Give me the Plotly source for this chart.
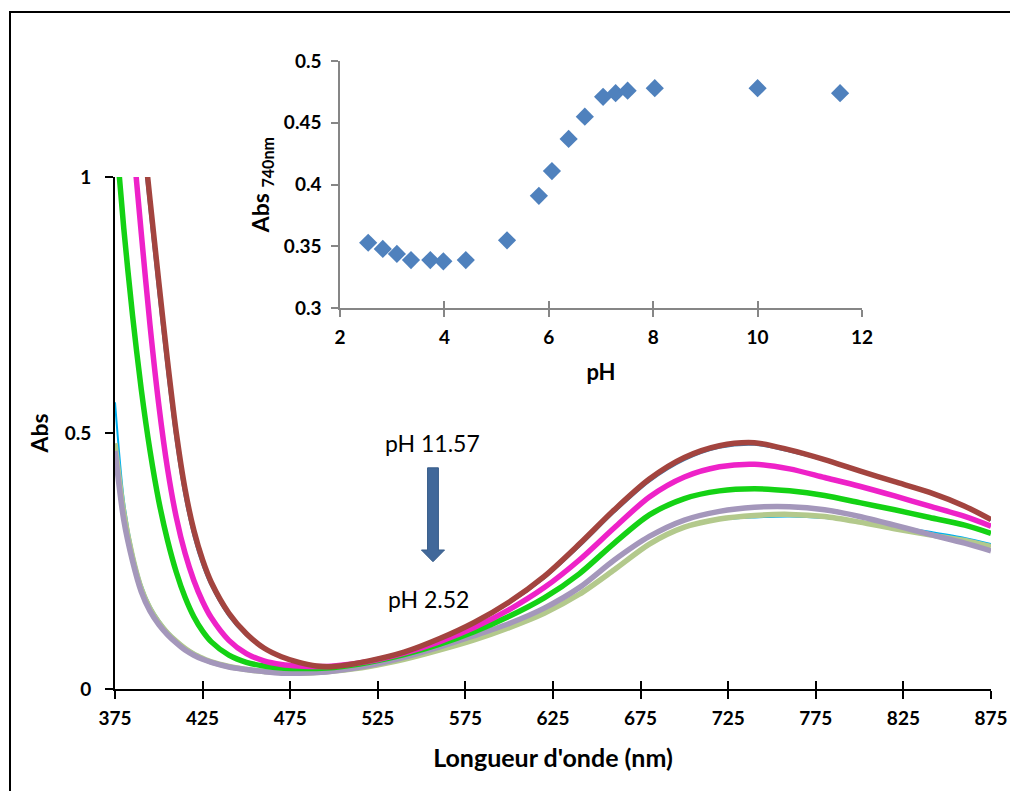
import plotly.graph_objects as go

# ---------------- data ----------------
wavelength = [375, 380, 385, 390, 395, 400, 405, 410, 415, 420, 425, 430, 440, 450, 460, 470,
              480, 490, 500, 520, 540, 560, 580, 600, 620, 640, 660, 680, 700, 720, 740, 760,
              780, 800, 820, 840, 860, 875]

abs_cyan = [0.56, 0.37, 0.27, 0.205, 0.163, 0.135, 0.113, 0.096, 0.082, 0.071, 0.062, 0.055, 0.045, 0.039,
            0.035, 0.033, 0.032, 0.033, 0.036, 0.045, 0.059, 0.077, 0.097, 0.121, 0.149, 0.186, 0.234,
            0.284, 0.315, 0.330, 0.335, 0.337, 0.334, 0.327, 0.318, 0.307, 0.295, 0.283]
abs_olive = [0.48, 0.345, 0.258, 0.196, 0.157, 0.130, 0.109, 0.093, 0.079, 0.068, 0.060, 0.053, 0.044, 0.038,
             0.034, 0.032, 0.031, 0.032, 0.035, 0.044, 0.058, 0.076, 0.096, 0.120, 0.148, 0.185, 0.233,
             0.283, 0.316, 0.332, 0.339, 0.341, 0.337, 0.326, 0.313, 0.301, 0.290, 0.278]
abs_lavender = [0.465, 0.33, 0.25, 0.19, 0.152, 0.126, 0.106, 0.090, 0.076, 0.066, 0.058, 0.052, 0.043, 0.038,
                0.034, 0.031, 0.031, 0.032, 0.035, 0.046, 0.062, 0.082, 0.104, 0.128, 0.158, 0.198, 0.252,
                0.298, 0.330, 0.347, 0.355, 0.356, 0.350, 0.337, 0.320, 0.302, 0.285, 0.270]
abs_green = [1.10, 0.90, 0.73, 0.585, 0.465, 0.367, 0.290, 0.228, 0.179, 0.141, 0.113, 0.092, 0.066, 0.052,
             0.045, 0.041, 0.040, 0.040, 0.042, 0.052, 0.067, 0.087, 0.112, 0.142, 0.178, 0.225, 0.285,
             0.340, 0.372, 0.387, 0.391, 0.387, 0.378, 0.364, 0.350, 0.335, 0.320, 0.304]
abs_magenta = [1.48, 1.28, 1.08, 0.89, 0.71, 0.555, 0.430, 0.335, 0.265, 0.212, 0.171, 0.139, 0.095, 0.069,
               0.055, 0.048, 0.045, 0.044, 0.045, 0.054, 0.070, 0.092, 0.120, 0.155, 0.198, 0.252, 0.315,
               0.375, 0.414, 0.434, 0.439, 0.430, 0.413, 0.396, 0.377, 0.357, 0.337, 0.318]
abs_steel = [1.60, 1.42, 1.25, 1.09, 0.925, 0.765, 0.612, 0.477, 0.372, 0.296, 0.241, 0.200, 0.142, 0.104,
             0.078, 0.062, 0.051, 0.045, 0.044, 0.054, 0.071, 0.097, 0.128, 0.167, 0.216, 0.278, 0.345,
             0.405, 0.447, 0.471, 0.477, 0.464, 0.446, 0.424, 0.403, 0.382, 0.355, 0.330]
abs_brown = [1.65, 1.46, 1.29, 1.12, 0.955, 0.795, 0.640, 0.500, 0.390, 0.310, 0.252, 0.208, 0.148, 0.108,
             0.080, 0.063, 0.052, 0.045, 0.044, 0.055, 0.072, 0.098, 0.130, 0.170, 0.220, 0.283, 0.350,
             0.410, 0.452, 0.475, 0.481, 0.467, 0.448, 0.426, 0.405, 0.384, 0.357, 0.331]

series_names = ["pH 2.52", "pH 3.0", "pH 4.4", "pH 5.8", "pH 6.4", "pH 10.0", "pH 11.57"]
series_values = [abs_cyan, abs_olive, abs_lavender, abs_green, abs_magenta, abs_steel, abs_brown]
series_colors = ["#00B0F0", "#B3C98C", "#A497BB", "#14D214", "#EE22C8", "#3C7DB0", "#A3443F"]
series_widths = [2, 5.5, 5.5, 5.5, 5.5, 2, 5.5]

ph_values = [2.54, 2.82, 3.09, 3.36, 3.73, 3.98, 4.41, 5.20, 5.81, 6.06, 6.38, 6.69, 7.04, 7.28,
             7.51, 8.03, 10.0, 11.58]
abs_740 = [0.353, 0.348, 0.344, 0.339, 0.339, 0.338, 0.339, 0.355, 0.391, 0.411, 0.437, 0.455,
           0.471, 0.474, 0.476, 0.478, 0.478, 0.474]

x_ticks = [375, 425, 475, 525, 575, 625, 675, 725, 775, 825, 875]
y_ticks = [0, 0.5, 1]
y_tick_text = ["0", "0.5", "1"]

FONT = "Lato"
W, H = 1010, 791


def px(x):
    return x / W


def py(y):
    return 1 - y / H


fig = go.Figure()

for name, vals, col, lw in zip(series_names, series_values, series_colors, series_widths):
    fig.add_trace(go.Scatter(x=wavelength, y=vals, mode="lines", name=name,
                             line=dict(color=col, width=lw, shape="spline", smoothing=0.8),
                             xaxis="x", yaxis="y", showlegend=False))

# overlay axis for inner half of crossing ticks
fig.add_trace(go.Scatter(x=[], y=[], xaxis="x3", yaxis="y", showlegend=False, hoverinfo="skip"))

fig.add_trace(go.Scatter(x=ph_values, y=abs_740, mode="markers",
                         marker=dict(symbol="diamond", size=14, color="#4F81BD"),
                         xaxis="x2", yaxis="y2", showlegend=False))
fig.add_trace(go.Scatter(x=[], y=[], xaxis="x4", yaxis="y2", showlegend=False, hoverinfo="skip"))

tickfont = dict(family=FONT, size=19, color="black", weight="bold")
inset_tickfont = dict(family=FONT, size=19, color="black", weight="bold")

fig.update_layout(
    template="none",
    width=W, height=H,
    margin=dict(l=0, r=0, t=0, b=0, pad=0, autoexpand=False),
    paper_bgcolor="white", plot_bgcolor="rgba(0,0,0,0)",
    showlegend=False,
    xaxis=dict(domain=[px(115), px(991)], range=[375, 875], tickvals=x_ticks, automargin=False,
               showgrid=False, zeroline=False, showline=True, linecolor="black", linewidth=2,
               ticks="outside", ticklen=8, tickwidth=1.5, tickcolor="black", ticklabelstandoff=3,
               tickfont=tickfont, anchor="y",
               title=dict(text="Longueur d'onde (nm)", standoff=22,
                          font=dict(family=FONT, size=25, color="black", weight="bold"))),
    xaxis3=dict(domain=[px(115), px(991)], range=[375, 875], tickvals=x_ticks, overlaying="x",
                anchor="y", showgrid=False, zeroline=False, showline=False, showticklabels=False,
                automargin=False,
                ticks="inside", ticklen=8, tickwidth=1.5, tickcolor="black"),
    yaxis=dict(domain=[py(689), py(177)], range=[0, 1], tickvals=y_ticks, ticktext=y_tick_text,
               automargin=False,
               showgrid=False, zeroline=False, showline=True, linecolor="black", linewidth=2,
               ticks="outside", ticklen=8, tickwidth=1.5, tickcolor="black", ticklabelstandoff=10,
               tickfont=tickfont, anchor="x",
               title=dict(text="Abs", standoff=10,
                          font=dict(family=FONT, size=23, color="black", weight="bold"))),
    xaxis2=dict(domain=[px(340), px(862)], range=[2, 12], dtick=2, anchor="y2", automargin=False,
                showgrid=False, zeroline=False, showline=True, linecolor="#868686", linewidth=1.5,
                ticks="outside", ticklen=7, tickwidth=1.5, tickcolor="#868686", ticklabelstandoff=4,
                tickfont=inset_tickfont,
                title=dict(text="pH", standoff=18,
                           font=dict(family=FONT, size=22, color="black", weight="bold"))),
    xaxis4=dict(domain=[px(340), px(862)], range=[2, 12], dtick=2, anchor="y2", overlaying="x2",
                showgrid=False, zeroline=False, showline=False, showticklabels=False,
                automargin=False,
                ticks="inside", ticklen=7, tickwidth=1.5, tickcolor="#868686"),
    yaxis2=dict(domain=[py(308.3), py(61)], range=[0.3, 0.5], dtick=0.05, anchor="x2",
                tickformat="~g", automargin=False,
                showgrid=False, zeroline=False, showline=True, linecolor="#868686", linewidth=1.5,
                ticks="outside", ticklen=7, tickwidth=1.5, tickcolor="#868686", ticklabelstandoff=6,
                tickfont=inset_tickfont,
                title=dict(text="Abs <sub>740nm</sub>", standoff=8,
                           font=dict(family=FONT, size=23, color="black", weight="bold"))),
    shapes=[
        dict(type="rect", xref="paper", yref="paper", x0=px(10), x1=1.02, y0=-0.02, y1=py(12),
             line=dict(color="black", width=2), fillcolor="rgba(0,0,0,0)", layer="below"),
        dict(type="path", xref="x", yref="y",
             path="M 553.4 0.432 L 559.6 0.432 L 559.6 0.2715 L 563.1 0.2715 L 556.5 0.2486 "
                  "L 549.9 0.2715 L 553.4 0.2715 Z",
             fillcolor="#41689A", line=dict(color="#385D8A", width=1)),
    ],
    annotations=[
        dict(x=556.5, y=0.48, xref="x", yref="y", text="pH 11.57", showarrow=False,
             font=dict(family=FONT, size=23, color="black")),
        dict(x=554.2, y=0.176, xref="x", yref="y", text="pH 2.52", showarrow=False,
             font=dict(family=FONT, size=23, color="black")),
    ],
)

fig.write_html("out.html", config={"displayModeBar": False},
               post_script="document.body.style.margin='0';document.body.style.overflow='hidden';")
